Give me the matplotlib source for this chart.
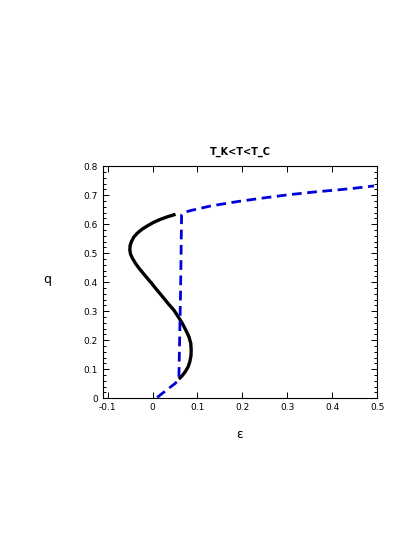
import matplotlib
matplotlib.use("Agg")
from matplotlib import pyplot as plt
from matplotlib.ticker import MultipleLocator

# black solid branch (eps, q)
eps_solid = [0.0512, 0.034, 0.0178, 0.002, -0.0118, -0.024, -0.034, -0.042,
             -0.047, -0.050, -0.0506, -0.049, -0.045, -0.038, -0.030, -0.021,
             -0.0118, -0.002, 0.0067, 0.016, 0.025, 0.036, 0.0475, 0.057,
             0.066, 0.074, 0.081, 0.085, 0.086, 0.0855, 0.083, 0.079, 0.073,
             0.066, 0.0586]
q_solid = [0.634, 0.626, 0.617, 0.606, 0.594, 0.582, 0.569, 0.555,
           0.540, 0.526, 0.511, 0.497, 0.483, 0.465, 0.448, 0.431,
           0.414, 0.396, 0.379, 0.362, 0.345, 0.324, 0.304, 0.281,
           0.259, 0.235, 0.212, 0.190, 0.167, 0.146, 0.126, 0.108, 0.092,
           0.078, 0.066]

# blue dashed branch
eps_dash = [0.0104, 0.030, 0.051, 0.0586, 0.0605, 0.0624, 0.0635, 0.0646,
            0.0697, 0.0846, 0.13, 0.189, 0.25, 0.30, 0.36, 0.411, 0.45, 0.493]
q_dash = [0.003, 0.027, 0.052, 0.069, 0.220, 0.373, 0.500, 0.632,
          0.640, 0.647, 0.663, 0.678, 0.691, 0.701, 0.711, 0.718, 0.724, 0.732]

fig = plt.figure(figsize=(4.2, 5.43), dpi=100)
ax = fig.add_axes([0.2445, 0.2665, 0.6535, 0.4275])

ax.plot(eps_solid, q_solid, color="black", lw=2.4, solid_capstyle="butt",
        solid_joinstyle="round")
ax.plot(eps_dash, q_dash, color="#0000dd", lw=2.0, dashes=(3.5, 2))

ax.set_xlim(-0.111, 0.5)
ax.set_ylim(0, 0.8)
ax.xaxis.set_major_locator(MultipleLocator(0.1))
ax.yaxis.set_major_locator(MultipleLocator(0.1))
ax.yaxis.set_minor_locator(MultipleLocator(0.02))
ax.tick_params(which="both", direction="in", top=True, right=True,
               labelsize=6.5, width=0.7)
ax.tick_params(which="major", length=4)
ax.tick_params(which="minor", length=2)
ax.set_xticks([-0.1, 0, 0.1, 0.2, 0.3, 0.4, 0.5])
ax.set_xticklabels(["-0.1", "0", "0.1", "0.2", "0.3", "0.4", "0.5"])
ax.set_yticks([0, 0.1, 0.2, 0.3, 0.4, 0.5, 0.6, 0.7, 0.8])
ax.set_yticklabels(["0", "0.1", "0.2", "0.3", "0.4", "0.5", "0.6", "0.7", "0.8"])
for s in ax.spines.values():
    s.set_linewidth(0.8)

ax.set_title("T_K<T<T_C", fontsize=7, fontweight="bold", pad=8)
fig.text(47 / 420, 1 - 280 / 543, "q", fontsize=9, ha="center", va="center")
fig.text(240 / 420, 1 - 435 / 543, "ε", fontsize=9, ha="center", va="center")

fig.savefig("out.png", dpi=100)
